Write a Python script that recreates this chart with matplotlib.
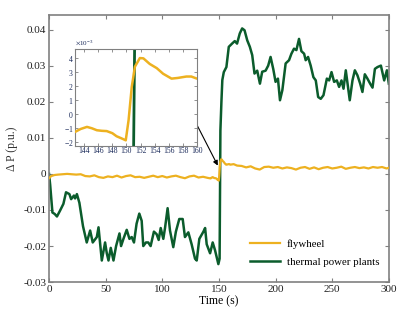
import matplotlib
matplotlib.use("Agg")
import matplotlib.pyplot as plt
from matplotlib.ticker import FuncFormatter

plt.rcParams['font.family'] = ['Liberation Serif', 'DejaVu Serif']
plt.rcParams['mathtext.fontset'] = 'stix'

# ---- data ----
fly_t = [0, 2, 5, 8, 12, 16, 20, 24, 28, 32, 36, 40, 44, 48, 52, 56, 60, 64, 68, 72,
         76, 80, 84, 88, 92, 96, 100, 104, 108, 112, 116, 120, 124, 128, 132, 136, 140,
         142.7, 143.5, 144.4, 145.1, 145.8, 146.5, 147.2, 148.0, 148.6, 149.3, 149.9,
         150.3, 150.75, 151.2, 151.9, 152.4, 153.3, 154.3, 155.2, 156.4, 157.3, 158.5,
         159.2, 160,
         163, 166, 170, 174, 178, 182, 186, 190, 194, 198, 202, 206, 210, 214, 218, 222,
         226, 230, 234, 238, 242, 246, 250, 254, 258, 262, 266, 270, 274, 278, 282, 286,
         290, 294, 298, 300]
fly_v = [-1.2, -0.6, -0.3, -0.2, -0.1, 0.0, -0.1, -0.2, -0.1, -0.6, -0.7, -0.4, -0.9, -1.1,
         -0.7, -0.9, -0.5, -1.0, -0.6, -0.4, -0.9, -0.8, -1.1, -0.8, -0.5, -0.9, -0.6, -1.0,
         -0.7, -0.5, -0.9, -1.2, -0.7, -0.5, -1.0, -0.8, -1.1,
         -1.26, -1.05, -0.9, -1.0, -1.14, -1.18, -1.2, -1.35, -1.57, -1.72, -1.86,
         -0.43, 1.95, 3.4, 4.02, 4.0, 3.6, 3.3, 2.9, 2.55, 2.6, 2.7,
         2.7, 2.55,
         2.7, 2.3, 2.2, 1.8, 2.1, 1.5, 1.2, 1.9, 2.0, 1.7, 1.9, 1.5, 1.8, 1.6, 1.2, 1.7,
         1.9, 1.4, 1.8, 1.3, 1.7, 1.9, 1.5, 1.7, 2.0, 1.4, 1.7, 1.9, 1.6, 1.8, 1.5, 1.9,
         1.7, 1.9, 1.5, 1.7]
fly_v = [v * 1e-3 for v in fly_v]

th_t = [0, 1, 3, 5, 7, 9.7, 12.7, 15, 18, 19.5, 22, 23, 24.6, 26.8, 30, 31.9, 33.3, 36.3,
        38.6, 42.2, 43.7, 46.6, 49.5, 51, 52.5, 54.5, 56.9, 59.2, 62.2, 63.6, 65.7, 68.6,
        71, 73, 75, 77.3, 79.7, 81.8, 83.2, 85.6, 87.6, 89.7, 92.6, 95, 96.8, 98.6, 100.9,
        102.4, 104.7, 106.8, 109.7, 112, 115, 118, 120, 123, 125.9, 128.9, 130.4, 132.7,
        136.3, 137.8, 139.2, 142.2, 144.5, 146.6, 149.5, 150.6, 151.3, 152.2, 153, 154.3,
        156.6, 158.7, 161.6, 164, 166, 168.4, 170.5, 172.6, 175, 177.3, 179.4, 181.4, 183.8,
        186.2, 188.2, 191.2, 193.5, 195.6, 198, 200, 202.1, 203.9, 206, 208.9, 211.9, 214,
        216.3, 218.4, 220.7, 222.8, 225.2, 226.6, 228.7, 231, 233.4, 235.5, 237.6, 239.9,
        242.3, 245.3, 247.3, 249.4, 251.7, 254.1, 256.1, 258.2, 260, 262, 265.5, 267.9,
        270, 272.3, 274.7, 276.7, 278.8, 281.1, 283.5, 285.6, 287.7, 290, 293, 295.9,
        298.3, 300]
th_v = [0, -3, -10.7, -11.1, -11.8, -10.2, -8.3, -5.1, -5.6, -7.0, -6.0, -6.8, -5.6, -8.0,
        -14.5, -17.1, -19.0, -15.7, -19.0, -17.5, -14.8, -24.0, -19.0, -22.0, -24.0, -20.5,
        -24.0, -20.0, -16.5, -20.0, -18.0, -15.5, -18.0, -17.5, -19.0, -13.8, -11.0, -13.0,
        -20.0, -19.0, -19.0, -20.0, -16.0, -16.7, -18.3, -15.0, -18.0, -15.0, -9.5, -15.7,
        -20.3, -16.0, -12.5, -12.5, -17.5, -16.2, -19.5, -23.5, -24.0, -18.0, -16.0, -15.0,
        -19.5, -22.0, -19.0, -21.2, -25.0, -23.5, 12.0, 20.0, 26.0, 28.2, 29.6, 35.2, 36.1,
        36.8, 36.1, 38.9, 40.3, 39.8, 37.0, 35.2, 32.9, 27.8, 28.6, 25.0, 28.3, 28.6, 30.0,
        32.4, 29.0, 25.5, 26.4, 20.4, 23.2, 30.6, 31.5, 33.3, 34.7, 34.3, 37.4, 34.0, 33.3,
        31.5, 32.4, 30.0, 26.8, 25.9, 21.3, 20.8, 21.8, 26.4, 25.9, 28.2, 25.5, 25.9, 24.1,
        25.9, 23.6, 28.7, 20.4, 25.9, 28.7, 27.3, 25.0, 22.7, 27.6, 26.4, 25.0, 23.9, 29.1,
        29.6, 30.0, 25.9, 28.7, 25.0]
th_v = [v * 1e-3 for v in th_v]

xticks = [0, 50, 100, 150, 200, 250, 300]
yticks = [-0.03, -0.02, -0.01, 0, 0.01, 0.02, 0.03, 0.04]
in_xticks = [144, 146, 148, 150, 152, 154, 156, 158, 160]
in_yticks = [-2e-3, -1e-3, 0, 1e-3, 2e-3, 3e-3, 4e-3]

c_fly = '#EDB120'
c_th = '#0B5C2C'
spine_c = '#808080'

fig = plt.figure(figsize=(4.19, 3.21), dpi=100)
ax = fig.add_axes([0.117, 0.121, 0.811, 0.832])
ax.plot(fly_t, fly_v, color=c_fly, lw=1.6, label='flywheel', zorder=3)
ax.plot(th_t, th_v, color=c_th, lw=1.8, label='thermal power plants', zorder=2)
ax.set_xlim(0, 300)
ax.set_ylim(-0.03, 0.044)
ax.set_xticks(xticks)
ax.set_yticks(yticks)
ax.yaxis.set_major_formatter(FuncFormatter(lambda v, p: '0' if abs(v) < 1e-9 else ('%.2f' % v)))
ax.tick_params(direction='in', top=True, right=True, labelsize=8, length=3,
               color=spine_c, width=0.8, pad=2, labelcolor='#222222')
for s in ax.spines.values():
    s.set_color(spine_c)
    s.set_linewidth(1.2)
ax.set_xlabel('Time (s)', fontsize=8.5, labelpad=1)
ax.set_ylabel('Δ P (p.u.)', fontsize=8.5, labelpad=4, color='#333333')
leg = ax.legend(loc='lower right', bbox_to_anchor=(1.0, 0.02), frameon=False,
                fontsize=7.8, handlelength=2.8, handletextpad=0.6, labelspacing=0.8)

# inset
ins = fig.add_axes([0.179, 0.545, 0.291, 0.302])
ins.plot(fly_t, fly_v, color=c_fly, lw=1.8, zorder=3)
ins.plot(th_t, th_v, color=c_th, lw=2.0, zorder=2)
ins.set_xlim(142.7, 160)
ins.set_ylim(-2.27e-3, 4.66e-3)
ins.set_xticks(in_xticks)
ins.set_yticks(in_yticks)
ins.ticklabel_format(axis='y', style='sci', scilimits=(-3, -3), useMathText=True)
ins.yaxis.get_offset_text().set_fontsize(5)
ins.tick_params(direction='in', top=True, right=True, labelsize=5.5, length=2,
                color=spine_c, width=0.6, pad=1, labelcolor='#1a2a5a')
for s in ins.spines.values():
    s.set_color(spine_c)
    s.set_linewidth(0.8)

ax.annotate('', xy=(149, 0.0023), xycoords='data',
            xytext=(0.470, 0.611), textcoords='figure fraction',
            arrowprops=dict(arrowstyle='-|>', color='black', lw=0.8,
                            mutation_scale=7, shrinkA=0, shrinkB=0))

fig.savefig('out.png', dpi=100)
